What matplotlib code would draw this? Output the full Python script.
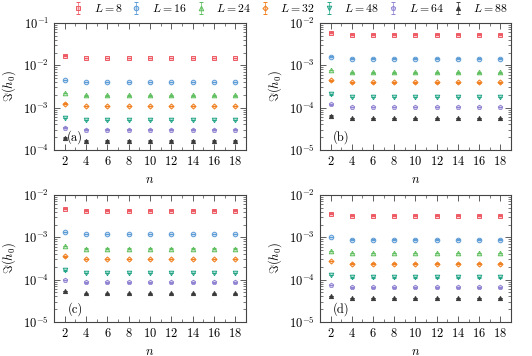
import matplotlib
matplotlib.use("Agg")
from matplotlib import pyplot as plt
from matplotlib.colors import to_rgba
from matplotlib.ticker import LogLocator, NullFormatter, MultipleLocator

plt.rcParams["font.family"] = "serif"
plt.rcParams["font.serif"] = ["cmr10", "DejaVu Serif"]
plt.rcParams["mathtext.fontset"] = "cm"
plt.rcParams["axes.formatter.use_mathtext"] = True
plt.rcParams["axes.unicode_minus"] = False

n = [2, 4, 6, 8, 10, 12, 14, 16, 18]
sizes = [8, 16, 24, 32, 48, 64, 88]

# panel (a): values for each L, n = 2 .. 18
a_L8 = [0.0169, 0.0148, 0.0148, 0.0148, 0.0148, 0.0148, 0.0148, 0.0148, 0.0148]
a_L16 = [0.00447, 0.00408, 0.00408, 0.00408, 0.00408, 0.00408, 0.00408, 0.00408, 0.00408]
a_L24 = [0.00224, 0.00194, 0.00194, 0.00194, 0.00194, 0.00194, 0.00194, 0.00194, 0.00194]
a_L32 = [0.00125, 0.00110, 0.00110, 0.00110, 0.00110, 0.00110, 0.00110, 0.00110, 0.00110]
a_L48 = [5.75e-4, 5.14e-4, 5.14e-4, 5.14e-4, 5.14e-4, 5.14e-4, 5.14e-4, 5.14e-4, 5.14e-4]
a_L64 = [3.39e-4, 3.03e-4, 3.03e-4, 3.03e-4, 3.03e-4, 3.03e-4, 3.03e-4, 3.03e-4, 3.03e-4]
a_L88 = [1.96e-4, 1.67e-4, 1.67e-4, 1.67e-4, 1.67e-4, 1.67e-4, 1.67e-4, 1.67e-4, 1.67e-4]

# panel (b)
b_L8 = [0.0059, 0.0053, 0.0053, 0.0053, 0.0053, 0.0053, 0.0053, 0.0053, 0.0053]
b_L16 = [0.0016, 0.00143, 0.00143, 0.00143, 0.00143, 0.00143, 0.00143, 0.00143, 0.00143]
b_L24 = [7.7e-4, 6.8e-4, 6.8e-4, 6.8e-4, 6.8e-4, 6.8e-4, 6.8e-4, 6.8e-4, 6.8e-4]
b_L32 = [4.38e-4, 3.93e-4, 3.93e-4, 3.93e-4, 3.93e-4, 3.93e-4, 3.93e-4, 3.93e-4, 3.93e-4]
b_L48 = [2.05e-4, 1.80e-4, 1.80e-4, 1.80e-4, 1.80e-4, 1.80e-4, 1.80e-4, 1.80e-4, 1.80e-4]
b_L64 = [1.19e-4, 1.04e-4, 1.04e-4, 1.04e-4, 1.04e-4, 1.04e-4, 1.04e-4, 1.04e-4, 1.04e-4]
b_L88 = [6.5e-5, 5.75e-5, 5.75e-5, 5.75e-5, 5.75e-5, 5.75e-5, 5.75e-5, 5.75e-5, 5.75e-5]

# panel (c)
c_L8 = [0.00476, 0.00428, 0.00428, 0.00428, 0.00428, 0.00428, 0.00428, 0.00428, 0.00428]
c_L16 = [0.00132, 0.00118, 0.00118, 0.00118, 0.00118, 0.00118, 0.00118, 0.00118, 0.00118]
c_L24 = [6.17e-4, 5.43e-4, 5.43e-4, 5.43e-4, 5.43e-4, 5.43e-4, 5.43e-4, 5.43e-4, 5.43e-4]
c_L32 = [3.52e-4, 3.10e-4, 3.10e-4, 3.10e-4, 3.10e-4, 3.10e-4, 3.10e-4, 3.10e-4, 3.10e-4]
c_L48 = [1.65e-4, 1.45e-4, 1.45e-4, 1.45e-4, 1.45e-4, 1.45e-4, 1.45e-4, 1.45e-4, 1.45e-4]
c_L64 = [9.8e-5, 8.6e-5, 8.6e-5, 8.6e-5, 8.6e-5, 8.6e-5, 8.6e-5, 8.6e-5, 8.6e-5]
c_L88 = [5.47e-5, 4.73e-5, 4.73e-5, 4.73e-5, 4.73e-5, 4.73e-5, 4.73e-5, 4.73e-5, 4.73e-5]

# panel (d)
d_L8 = [0.00363, 0.00326, 0.00326, 0.00326, 0.00326, 0.00326, 0.00326, 0.00326, 0.00326]
d_L16 = [0.00100, 8.8e-4, 8.8e-4, 8.8e-4, 8.8e-4, 8.8e-4, 8.8e-4, 8.8e-4, 8.8e-4]
d_L24 = [4.77e-4, 4.29e-4, 4.29e-4, 4.29e-4, 4.29e-4, 4.29e-4, 4.29e-4, 4.29e-4, 4.29e-4]
d_L32 = [2.72e-4, 2.40e-4, 2.40e-4, 2.40e-4, 2.40e-4, 2.40e-4, 2.40e-4, 2.40e-4, 2.40e-4]
d_L48 = [1.28e-4, 1.13e-4, 1.13e-4, 1.13e-4, 1.13e-4, 1.13e-4, 1.13e-4, 1.13e-4, 1.13e-4]
d_L64 = [7.44e-5, 6.55e-5, 6.55e-5, 6.55e-5, 6.55e-5, 6.55e-5, 6.55e-5, 6.55e-5, 6.55e-5]
d_L88 = [4.17e-5, 3.74e-5, 3.74e-5, 3.74e-5, 3.74e-5, 3.74e-5, 3.74e-5, 3.74e-5, 3.74e-5]

panels = [
    ("(a)", (1e-4, 1e-1), [a_L8, a_L16, a_L24, a_L32, a_L48, a_L64, a_L88]),
    ("(b)", (1e-5, 1e-2), [b_L8, b_L16, b_L24, b_L32, b_L48, b_L64, b_L88]),
    ("(c)", (1e-5, 1e-2), [c_L8, c_L16, c_L24, c_L32, c_L48, c_L64, c_L88]),
    ("(d)", (1e-5, 1e-2), [d_L8, d_L16, d_L24, d_L32, d_L48, d_L64, d_L88]),
]

# relative error bar size (too small to read, only caps show)
rel_err = 0.01

colors = ["#ee5a64", "#5b9bd5", "#5fbf5f", "#f07f1e", "#23a588", "#8f83d2", "#3a3a3a"]
markers = ["s", "o", "^", "D", "v", "p", "^"]
msizes = [3.3, 3.3, 3.3, 2.6, 3.3, 3.3, 3.0]

fig = plt.figure(figsize=(5.32, 3.56), dpi=100)
positions = [
    [0.1015, 0.5787, 0.361, 0.357],
    [0.6015, 0.5787, 0.359, 0.357],
    [0.1015, 0.0955, 0.361, 0.357],
    [0.6015, 0.0955, 0.359, 0.357],
]

handles = []
for pos, (tag, ylim, series) in zip(positions, panels):
    ax = fig.add_axes(pos)
    handles = []
    for vals, L, c, m, ms in zip(series, sizes, colors, markers, msizes):
        face = c if L == 88 else to_rgba(c, 0.3)
        h = ax.errorbar(n, vals, yerr=[v * rel_err for v in vals], fmt=m, color=c,
                        ms=ms, mfc=face, mec=c, mew=0.7, elinewidth=0.5,
                        capsize=1.6, capthick=0.5, label=f"$L={L}$")
        handles.append(h)
    ax.set_yscale("log")
    ax.set_ylim(*ylim)
    ax.set_xlim(1, 19)
    ax.xaxis.set_major_locator(MultipleLocator(2))
    ax.xaxis.set_minor_locator(MultipleLocator(1))
    ax.yaxis.set_major_locator(LogLocator(base=10))
    ax.yaxis.set_minor_locator(LogLocator(base=10, subs=range(2, 10)))
    ax.yaxis.set_minor_formatter(NullFormatter())
    ax.tick_params(which="both", direction="in", top=True, right=True,
                   labelsize=9, color="#444444")
    ax.tick_params(which="major", length=4, width=0.6)
    ax.tick_params(which="minor", length=2, width=0.5)
    for s in ax.spines.values():
        s.set_linewidth(0.8)
        s.set_color("#444444")
    ax.set_xlabel("$n$", fontsize=9)
    ax.set_ylabel(r"$\Im(h_0)$", fontsize=9)
    ax.text(0.11, 0.10, tag, transform=ax.transAxes, fontsize=9,
            ha="center", va="center")

fig.legend(handles=handles, loc="upper center", bbox_to_anchor=(0.545, 1.015),
           ncol=7, frameon=False, fontsize=8.5, handlelength=1.0,
           handletextpad=0.8, columnspacing=0.7, borderaxespad=0.2)

fig.savefig("out.png", dpi=100)
